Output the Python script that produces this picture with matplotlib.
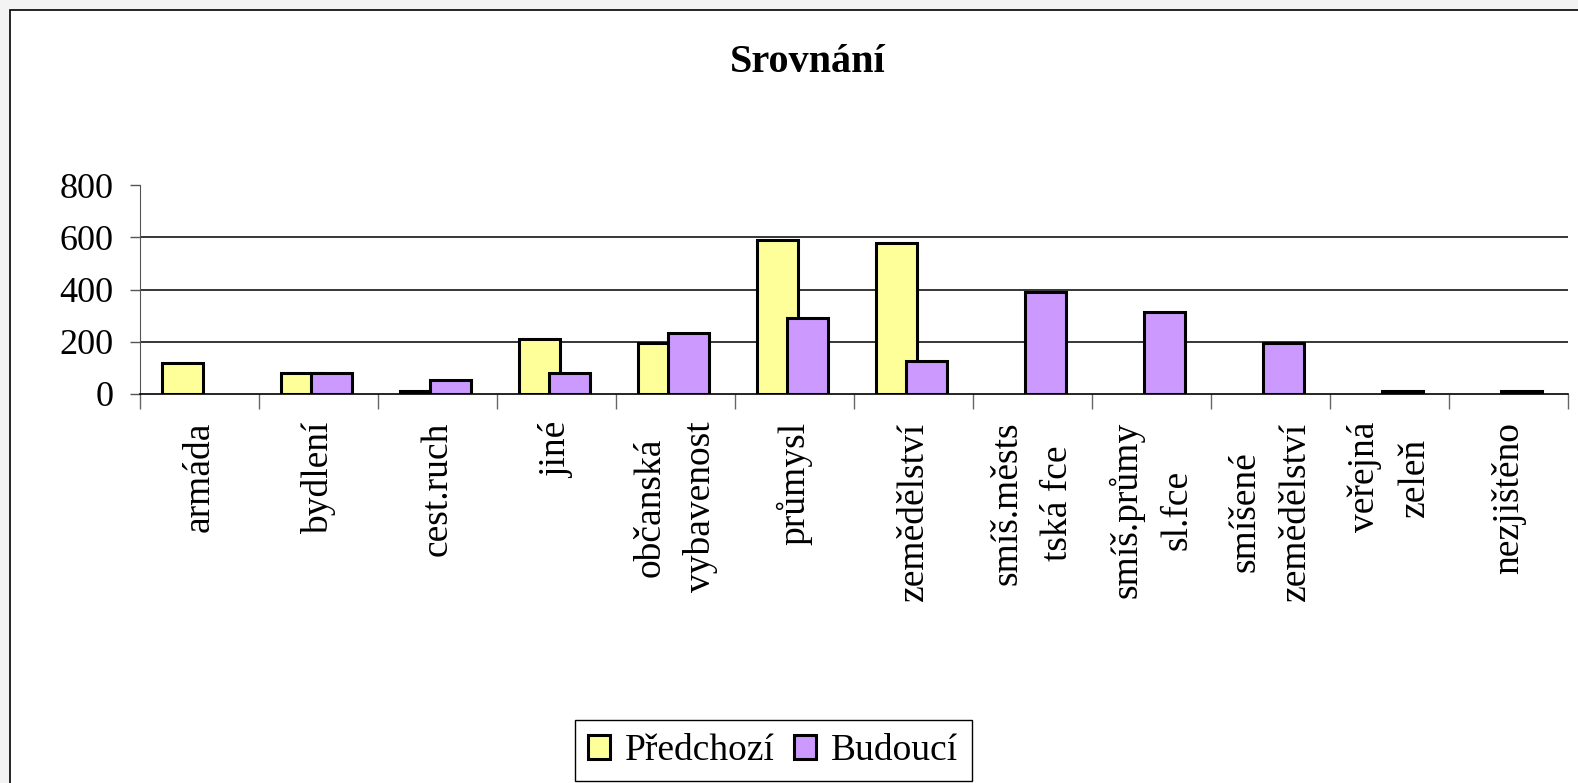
import numpy as np
from matplotlib import pyplot as plt
from matplotlib.patches import Rectangle

categories = ['armáda', 'bydlení', 'cest.ruch', 'jiné', 'občanská\nvybavenost',
              'průmysl', 'zemědělství', 'smíš.městs\ntská fce', 'smíš.průmy\nsl.fce',
              'smíšené\nzemědělství', 'veřejná\nzeleň', 'nezjištěno']
predchozi = [120, 80, 12, 210, 197, 590, 577, 0, 0, 0, 0, 0]
budouci = [0, 80, 52, 80, 234, 289, 128, 392, 314, 196, 12, 12]
y_ticks = [0, 200, 400, 600, 800]

plt.rcParams['font.family'] = ['Liberation Serif', 'DejaVu Serif']

W, H = 1578, 783
fig = plt.figure(figsize=(W / 100, H / 100), dpi=100, facecolor='#f3f3f3')
# white chart area with black frame, top/left edges visible only
fig.patches.append(Rectangle((10 / W, -0.1), 1.2, 1 - 10 / H + 0.1,
                             transform=fig.transFigure, facecolor='white',
                             edgecolor='black', lw=1.2, zorder=-5))

ax = fig.add_axes([140 / W, 1 - 394 / H, (1568 - 140) / W, (394 - 185) / H])
ax.set_facecolor('none')

width = 0.345
x = np.arange(len(categories))
pv = np.array(predchozi)
bv = np.array(budouci)
m1 = pv > 0
m2 = bv > 0
ax.bar(x[m1] - 0.145, pv[m1], width, color='#ffff99', edgecolor='black', lw=2.2,
       zorder=3, label='Předchozí')
ax.bar(x[m2] + 0.11, bv[m2], width, color='#cc99ff', edgecolor='black', lw=2.2,
       zorder=4, label='Budoucí')

for v in y_ticks[1:-1]:
    ax.axhline(v, color='black', lw=1.1, zorder=1)

ax.set_xlim(-0.5, len(categories) - 0.5)
ax.set_ylim(0, 800)
ax.set_yticks(y_ticks)
ax.tick_params(axis='y', labelsize=26, length=7, width=1, color='#555555', pad=12)

ax.set_xticks(x)
ax.set_xticklabels(categories, rotation=90, fontsize=27, va='top', ha='center',
                   linespacing=1.6)
ax.set_xticks(np.arange(len(categories) + 1) - 0.5, minor=True)
ax.tick_params(axis='x', which='major', length=0, pad=20)
ax.tick_params(axis='x', which='minor', length=11, width=1, color='#666666')

for s in ['top', 'right']:
    ax.spines[s].set_visible(False)
ax.spines['left'].set_color('#555555')
ax.spines['bottom'].set_color('black')
ax.spines['bottom'].set_linewidth(1.2)

fig.text(808 / W, 1 - 63 / H, 'Srovnání', ha='center', va='center',
         fontsize=29, fontweight='bold')

leg = fig.legend(loc='lower center', bbox_to_anchor=(773 / W, 2 / H), ncol=2,
                 fontsize=27, frameon=True, fancybox=False, framealpha=1,
                 edgecolor='black', handlelength=0.6, handleheight=0.6,
                 handletextpad=0.4, columnspacing=0.5, borderpad=0.35,
                 borderaxespad=0)
leg.get_frame().set_linewidth(1)

plt.savefig('out.png', dpi=100, facecolor=fig.get_facecolor())
